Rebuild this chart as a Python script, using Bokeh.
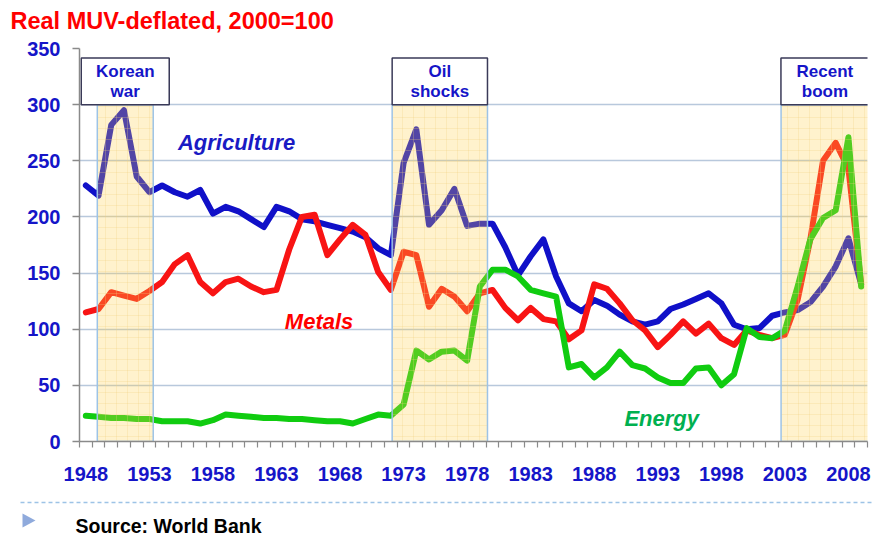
from bokeh.plotting import figure
from bokeh.layouts import column
from bokeh.models import Range1d, FixedTicker, Label, ColumnDataSource
from bokeh.core.properties import value
from bokeh.embed import file_html
from bokeh.resources import INLINE

# ---------------- data ----------------
years = list(range(1948, 2010))

agriculture = [228, 219, 282, 295, 236, 222, 228, 222, 218, 224,
               203, 209, 205, 198, 191, 209, 205, 198, 196, 193,
               190, 187, 182, 172, 166, 248, 278, 193, 206, 225,
               192, 194, 194, 173, 148, 165, 180, 147, 123, 116,
               126, 121, 113, 107, 104, 107, 118, 122, 127, 132,
               123, 104, 100, 101, 112, 115, 117, 124, 138, 156,
               181, 140]

metals = [115, 118, 133, 130, 127, 134, 142, 158, 166, 142,
          132, 142, 145, 138, 133, 135, 171, 200, 202, 166,
          180, 193, 184, 151, 135, 169, 166, 120, 136, 129,
          116, 132, 135, 119, 108, 119, 109, 107, 91, 99,
          140, 136, 123, 108, 99, 84, 95, 107, 96, 105,
          92, 86, 99, 95, 92, 95, 126, 180, 250, 266,
          243, 140]

energy = [23, 22, 21, 21, 20, 20, 18, 18, 18, 16,
          19, 24, 23, 22, 21, 21, 20, 20, 19, 18,
          18, 16, 20, 24, 23, 33, 81, 73, 80, 81,
          72, 138, 153, 153, 147, 135, 132, 129, 66, 69,
          57, 66, 80, 68, 65, 57, 52, 52, 65, 66,
          50, 60, 101, 93, 92, 99, 138, 180, 199, 206,
          271, 138]

period_line1 = ["Korean", "Oil", "Recent"]
period_line2 = ["war", "shocks", "boom"]
period_start = [1948.9, 1972.1, 2002.7]
period_end = [1953.3, 1979.6, 2009.6]

tick_years = [1948, 1953, 1958, 1963, 1968, 1973, 1978, 1983, 1988, 1993,
              1998, 2003, 2008]
y_ticks = [0, 50, 100, 150, 200, 250, 300, 350]

title_text = "Real MUV-deflated, 2000=100"
source_text = "Source: World Bank"

# ---------------- styles ----------------
BLUE_TXT = "#1515c8"
GRID = "#b8c8dc"
AXIS = "#8a8a8a"
FONT = "Liberation Sans"
W = 875


def blank(height):
    f = figure(width=W, height=height, x_range=Range1d(0, W),
               y_range=Range1d(height, 0), x_axis_type=None, y_axis_type=None,
               output_backend="svg", toolbar_location=None, min_border=0,
               frame_align=False)
    f.outline_line_color = None
    f.background_fill_color = "white"
    f.border_fill_color = "white"
    return f


# header with title
head = blank(34)
head.text(x=[10], y=[20], text=[title_text], text_font=value(FONT),
          text_font_style="bold", text_font_size="23.5px",
          text_color="#ff0000", text_baseline="alphabetic")

# main chart
p = figure(width=W, height=461,
           x_range=Range1d(1947.5, 2009.5), y_range=Range1d(0, 350),
           output_backend="svg", toolbar_location=None,
           min_border_left=79, min_border_right=8,
           min_border_top=14, min_border_bottom=54, frame_align=False)
p.outline_line_color = None
p.background_fill_color = "white"
p.border_fill_color = "white"

p.yaxis.ticker = FixedTicker(ticks=y_ticks)
p.yaxis.axis_line_color = AXIS
p.yaxis.axis_line_width = 1.5
p.yaxis.major_tick_out = 7
p.yaxis.major_tick_in = 0
p.yaxis.major_tick_line_color = AXIS
p.yaxis.major_tick_line_width = 1.5
p.yaxis.minor_tick_line_color = None
p.yaxis.major_label_standoff = 12
p.yaxis.major_label_text_font = FONT
p.yaxis.major_label_text_font_style = "bold"
p.yaxis.major_label_text_font_size = "20px"
p.yaxis.major_label_text_color = BLUE_TXT

boundaries = [y - 0.5 for y in years] + [years[-1] + 0.5]
p.xaxis.ticker = FixedTicker(ticks=tick_years, minor_ticks=boundaries)
p.xaxis.axis_line_color = AXIS
p.xaxis.axis_line_width = 1.5
p.xaxis.major_tick_out = 0
p.xaxis.major_tick_in = 0
p.xaxis.minor_tick_out = 6
p.xaxis.minor_tick_in = 0
p.xaxis.minor_tick_line_color = AXIS
p.xaxis.minor_tick_line_width = 1.2
p.xaxis.major_label_standoff = 19
p.xaxis.major_label_text_font = FONT
p.xaxis.major_label_text_font_style = "bold"
p.xaxis.major_label_text_font_size = "20px"
p.xaxis.major_label_text_color = BLUE_TXT

p.xgrid.grid_line_color = None
p.ygrid.grid_line_color = GRID
p.ygrid.grid_line_width = 1.5

src = ColumnDataSource(dict(year=years, agri=agriculture, met=metals, ene=energy))
for col, color in (("agri", "#1010c8"), ("met", "#f81414"), ("ene", "#10cc10")):
    p.line("year", col, source=src, line_width=6, line_color=color,
           line_join="round", line_cap="round")

shade = ColumnDataSource(dict(left=period_start, right=period_end,
                              top=[300] * 3, bottom=[0] * 3))
p.quad(left="left", right="right", top="top", bottom="bottom", source=shade,
       fill_color="#ffd24d", fill_alpha=0.28,
       hatch_pattern="+", hatch_color="#f0d080", hatch_alpha=0.35,
       hatch_scale=11, hatch_weight=0.8,
       line_color="#9dc3e6", line_width=1.5)

centers = [(s + e) / 2 for s, e in zip(period_start, period_end)]
halfw = [max((e - s) / 2, 3.46) for s, e in zip(period_start, period_end)]
boxes = ColumnDataSource(dict(left=[c - h for c, h in zip(centers, halfw)],
                              right=[c + h for c, h in zip(centers, halfw)],
                              top=[341.5] * 3, bottom=[300] * 3,
                              x=centers, l1=period_line1, l2=period_line2,
                              y1=[329.5] * 3, y2=[311.5] * 3))
p.quad(left="left", right="right", top="top", bottom="bottom", source=boxes,
       fill_color="white", line_color="#3a3a58", line_width=1.5)
for ycol, tcol in (("y1", "l1"), ("y2", "l2")):
    p.text(x="x", y=ycol, text=tcol, source=boxes, text_align="center",
           text_baseline="middle", text_font=value(FONT),
           text_font_style="bold", text_font_size="17px", text_color=BLUE_TXT)

for txt, x, y, color in (("Agriculture", 1959.86, 266.5, "#1a1ac4"),
                         ("Metals", 1966.35, 107.3, "#ff0000"),
                         ("Energy", 1993.31, 20.6, "#00b050")):
    p.add_layout(Label(x=x, y=y, text=txt, text_align="center",
                       text_baseline="alphabetic", text_font=FONT,
                       text_font_style="bold italic", text_font_size="22px",
                       text_color=color))

# footer: dashed separator, bullet, source
foot = blank(43)
foot.line(x=[20, 872], y=[7, 7], line_color="#9dc3e6", line_width=1.5,
          line_dash="4 3")
foot.patch(x=[22, 22, 35], y=[18, 32, 25], fill_color="#8faadc",
           line_color=None)
foot.text(x=[75], y=[30], text=[source_text], text_font=value(FONT),
          text_font_style="bold", text_font_size="19.5px", text_color="#000000",
          text_baseline="alphabetic")

layout = column(head, p, foot, spacing=0)
open("out.html", "w").write(file_html(layout, INLINE))
